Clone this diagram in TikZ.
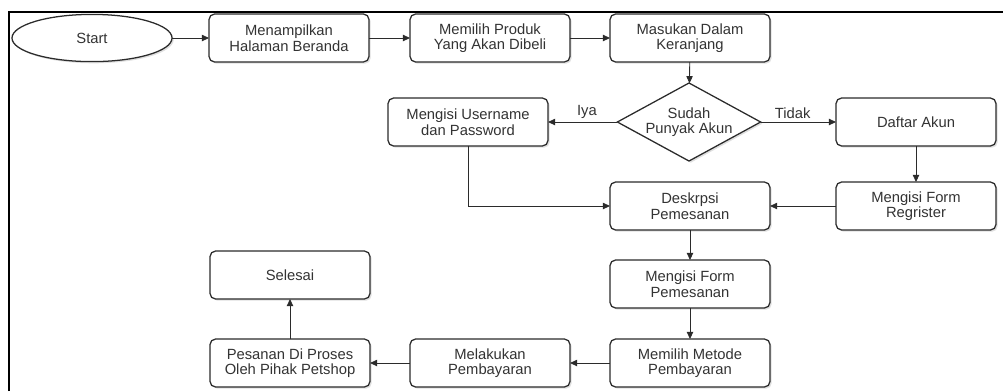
\documentclass[tikz,border=0pt]{standalone}
\usepackage{fontspec}
\setmainfont{Liberation Sans}
\usetikzlibrary{shapes.geometric,arrows.meta,shadows}
\definecolor{ink}{HTML}{333333}
\definecolor{edge}{HTML}{2B2B2B}
\tikzset{
  every node/.style={font=\fontsize{10.5}{11}\selectfont, text=ink},
  boxshadow/.style={drop shadow={opacity=0.25, shadow xshift=1.2pt, shadow yshift=-1.2pt}},
  procbox/.style={draw=edge, line width=0.9pt, fill=white, rounded corners=4pt,
    minimum width=4cm, minimum height=1.2cm, inner sep=0pt, outer sep=0pt,
    align=center, boxshadow},
  startshape/.style={draw=edge, line width=0.9pt, fill=white, ellipse,
    minimum width=4cm, minimum height=1.18cm, inner sep=0pt, outer sep=0pt, boxshadow},
  decision/.style={draw=edge, line width=0.9pt, fill=white, diamond, aspect=1.83,
    minimum width=3.58cm, minimum height=1.95cm, inner sep=0pt, outer sep=0pt,
    align=center, boxshadow},
  flow/.style={draw=edge, line width=0.6pt, -{Triangle[length=5pt,width=4.5pt]}},
  edgelabel/.style={font=\fontsize{10.5}{11}\selectfont, text=ink, inner sep=2pt}
}
\begin{document}
\begin{tikzpicture}[x=0.025cm, y=-0.025cm]
  \useasboundingbox (0,0) rectangle (1003,391);
  % page frame
  \draw[line width=1.4pt, black] (9,391) -- (9,12) -- (1003,12);

  % top row
  \node[startshape] (start) at (92,38) {Start};
  \node[procbox] (beranda) at (289,38) {Menampilkan\\Halaman Beranda};
  \node[procbox] (produk) at (490,38) {Memilih Produk\\Yang Akan Dibeli};
  \node[procbox] (keranjang) at (690,38) {Masukan Dalam\\Keranjang};

  % decision row
  \node[decision] (akun) at (689,122) {Sudah\\Punyak Akun};
  \node[procbox] (login) at (468,122) {Mengisi Username\\dan Password};
  \node[procbox] (daftar) at (916,122) {Daftar Akun};

  % middle
  \node[procbox] (register) at (916,206) {Mengisi Form\\Regrister};
  \node[procbox] (deskripsi) at (690,206) {Deskrpsi\\Pemesanan};
  \node[procbox] (form) at (690,284) {Mengisi Form\\Pemesanan};

  % bottom row
  \node[procbox] (metode) at (690,363) {Memilih Metode\\Pembayaran};
  \node[procbox] (bayar) at (490,363) {Melakukan\\Pembayaran};
  \node[procbox] (proses) at (290,363) {Pesanan Di Proses\\Oleh Pihak Petshop};
  \node[procbox] (selesai) at (290,275) {Selesai};

  % connectors
  \draw[flow] (start) -- (beranda);
  \draw[flow] (beranda) -- (produk);
  \draw[flow] (produk) -- (keranjang);
  \draw[flow] (keranjang) -- (akun);
  \draw[flow] (akun.west) -- node[edgelabel, above, xshift=3pt] {Iya} (login.east);
  \draw[flow] (akun.east) -- node[edgelabel, above, xshift=-4pt] {Tidak} (daftar.west);
  \draw[flow] (daftar) -- (register);
  \draw[flow] (register) -- (deskripsi);
  \draw[flow] (login.south) |- (deskripsi.west);
  \draw[flow] (deskripsi) -- (form);
  \draw[flow] (form) -- (metode);
  \draw[flow] (metode) -- (bayar);
  \draw[flow] (bayar) -- (proses);
  \draw[flow] (proses) -- (selesai);
\end{tikzpicture}
\end{document}
